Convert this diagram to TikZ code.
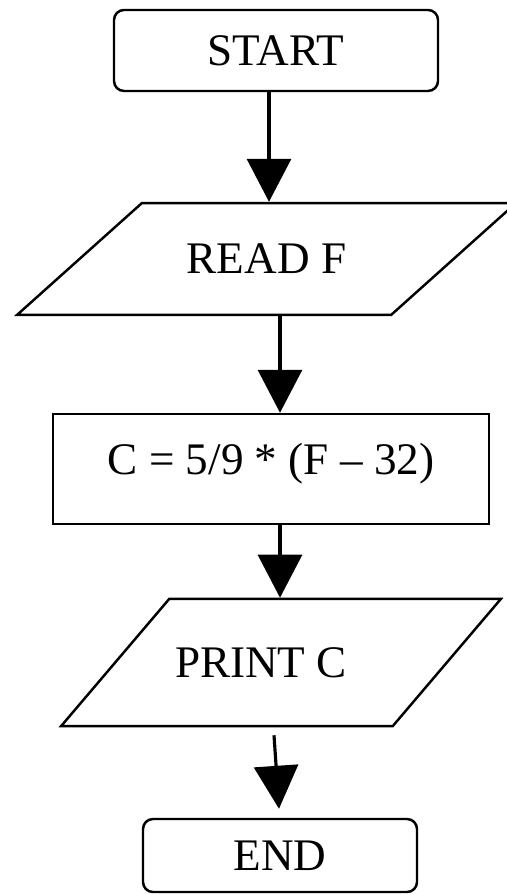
\documentclass[tikz,border=0pt]{standalone}
\usepackage{fontspec}
\setmainfont{Liberation Serif}
\usetikzlibrary{arrows.meta,shapes.geometric}
\newcommand{\chartfont}{\fontsize{25.7}{30}\selectfont}

\begin{document}
\begin{tikzpicture}[
  term/.style={rectangle,rounded corners=0.2cm,draw,line width=1.4pt,font=\chartfont},
  io/.style={trapezium,trapezium stretches body,draw,line width=1.4pt,font=\chartfont,text height=17pt,text depth=0pt},
  proc/.style={rectangle,draw,line width=1.4pt,font=\chartfont},
  flow/.style={-{Triangle[length=0.86cm,width=0.88cm]},line width=1.8pt}
]
\useasboundingbox (0,0) rectangle (10.12,-17.88);
\node[term,minimum width=6.48cm,minimum height=1.62cm] (start) at (5.52,-1.01) {START};
\node[io,trapezium left angle=41.86,trapezium right angle=138.14,minimum width=9.98cm,inner ysep=23.35pt] (readf) at (5.33,-5.18) {READ F};
\node[proc,minimum width=8.72cm,minimum height=2.2cm,text height=18pt,text depth=11.2pt] (calc) at (5.42,-9.38) {C = 5/9 * (F – 32)};
\node[io,trapezium left angle=49.63,trapezium right angle=130.37,minimum width=8.68cm,inner ysep=27.65pt] (printc) at (5.62,-13.25) {PRINT C\hspace*{0.8cm}};
\node[term,minimum width=5.48cm,minimum height=1.46cm] (stop) at (5.60,-17.11) {END};
\draw[flow] ([xshift=-0.14cm]start.south) -- ([xshift=-0.14cm]start.south |- readf.north);
\draw[flow] ([xshift=0.18cm]calc.north |- readf.south) -- ([xshift=0.18cm]calc.north);
\draw[flow] ([xshift=0.18cm]calc.south) -- ([xshift=0.18cm]calc.south |- printc.north);
\draw[flow] ([xshift=-0.12cm,yshift=-0.16cm]stop.north |- printc.south) -- ([xshift=-0.02cm,yshift=0.18cm]stop.north);
\end{tikzpicture}
\end{document}
